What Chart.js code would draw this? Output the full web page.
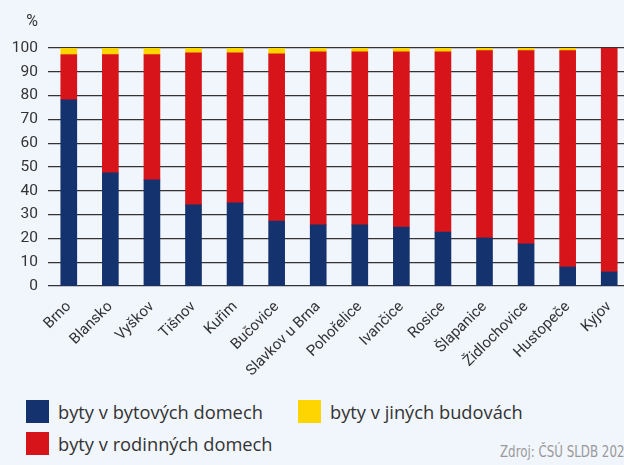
<!DOCTYPE html>
<html lang="cs">
<head>
<meta charset="utf-8">
<title>Byty podle typu budovy</title>
<script src="https://cdn.jsdelivr.net/npm/chart.js@4"></script>
<style>
  html, body { margin: 0; padding: 0; }
  body { width: 624px; height: 465px; overflow: hidden; background: #f1f5fc; position: relative; }
  #wrap { position: absolute; left: 0; top: 0; width: 640px; height: 390px; }
  .leg { position: absolute; display: flex; align-items: center; font: 18.3px "Open Sans", sans-serif; color: #333; white-space: nowrap; }
  .leg i { display: inline-block; width: 23px; height: 23px; margin-right: 9px; }
  #src { position: absolute; left: 500px; top: 442px; font: 16px "DejaVu Sans", sans-serif; color: #999; white-space: nowrap; transform: scaleX(0.74); transform-origin: 0 0; }
</style>
</head>
<body>
<div id="wrap"><canvas id="chart"></canvas></div>
<div id="legend"></div>
<div id="src">Zdroj: ČSÚ SLDB 2021</div>
<script>
const towns = ['Brno', 'Blansko', 'Vyškov', 'Tišnov', 'Kuřim', 'Bučovice', 'Slavkov u Brna',
  'Pohořelice', 'Ivančice', 'Rosice', 'Šlapanice', 'Židlochovice', 'Hustopeče', 'Kyjov'];

// podíl bytů v % podle typu budovy
const bytove = [78.2, 47.5, 44.6, 34.1, 34.9, 27.3, 25.7, 25.7, 24.8, 22.7, 20.2, 17.7, 8.0, 5.9];
const rodinne = [19.0, 49.7, 52.6, 63.9, 63.1, 70.3, 72.7, 72.7, 73.6, 75.7, 78.7, 81.2, 90.9, 94.0];
const jine = [2.8, 2.8, 2.8, 2.0, 2.0, 2.4, 1.6, 1.6, 1.6, 1.6, 1.1, 1.1, 1.1, 0.1];

const yTicks = [0, 10, 20, 30, 40, 50, 60, 70, 80, 90, 100];

const series = [
  { label: 'byty v bytových domech', data: bytove, color: '#14326e' },
  { label: 'byty v rodinných domech', data: rodinne, color: '#d7141a' },
  { label: 'byty v jiných budovách', data: jine, color: '#ffd500' }
];

// jednotka nad osou y
const unitLabel = {
  id: 'unitLabel',
  afterDraw(chart) {
    const { ctx, scales: { y } } = chart;
    ctx.save();
    ctx.font = '16px Roboto';
    ctx.fillStyle = '#333';
    ctx.textAlign = 'right';
    ctx.textBaseline = 'middle';
    ctx.fillText('%', y.right - 10, 22);
    ctx.restore();
  }
};

new Chart(document.getElementById('chart'), {
  type: 'bar',
  data: {
    labels: towns,
    datasets: series.map(s => ({
      label: s.label,
      data: s.data,
      backgroundColor: s.color,
      barThickness: 16
    }))
  },
  options: {
    responsive: true,
    maintainAspectRatio: false,
    animation: false,
    layout: { padding: { left: 12, top: 48, right: 10, bottom: 0 } },
    plugins: {
      legend: { display: false },
      tooltip: { enabled: false }
    },
    scales: {
      x: {
        stacked: true,
        grid: { display: false },
        border: { display: false },
        ticks: {
          color: '#333',
          font: { family: 'Roboto', size: 15 },
          maxRotation: 45,
          minRotation: 45,
          padding: 4
        },
        afterFit: s => { s.height = 104; }
      },
      y: {
        stacked: true,
        min: 0,
        max: 100,
        afterBuildTicks: s => { s.ticks = yTicks.map(v => ({ value: v })); },
        grid: { color: '#333', lineWidth: 1.2, drawTicks: false },
        border: { display: false },
        ticks: {
          color: '#333',
          font: { family: 'Roboto', size: 15.5 },
          padding: 10
        },
        afterFit: s => { s.width = 36; }
      }
    }
  },
  plugins: [unitLabel]
});

// legenda ve dvou sloupcích
const legendPos = [[26, 399], [26, 431], [298, 399]];
const legend = document.getElementById('legend');
series.forEach((s, i) => {
  const el = document.createElement('div');
  el.className = 'leg';
  el.style.left = legendPos[i][0] + 'px';
  el.style.top = legendPos[i][1] + 'px';
  el.innerHTML = '<i style="background:' + s.color + '"></i>' + s.label;
  legend.appendChild(el);
});
</script>
</body>
</html>
